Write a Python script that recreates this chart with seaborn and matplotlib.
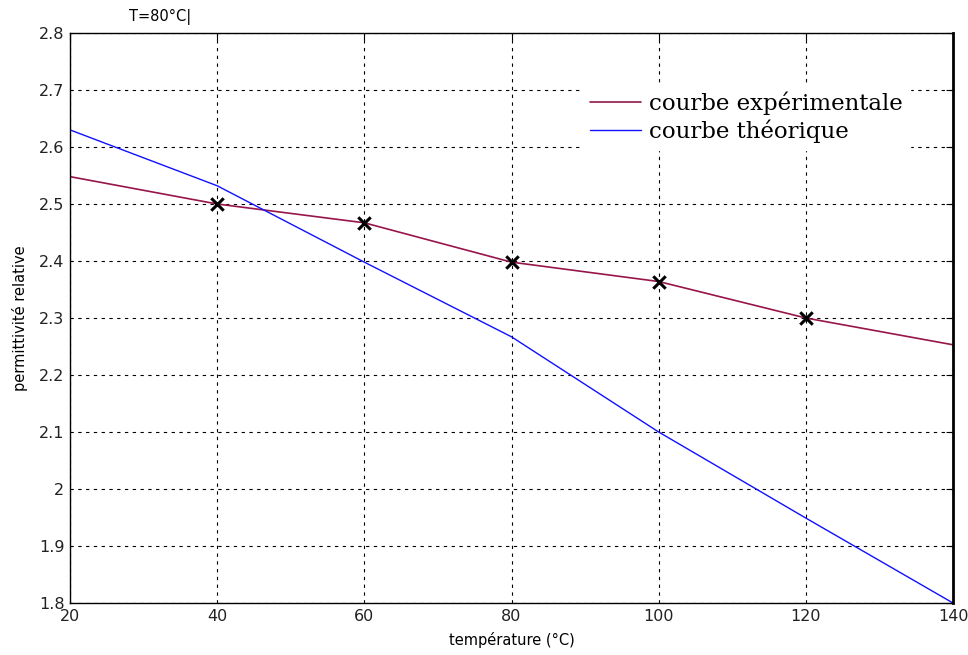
"""
Permittivité relative en fonction de la température : courbe expérimentale vs théorique.
"""

import numpy as np
import pandas as pd
import matplotlib
matplotlib.use("Agg")
import matplotlib.pyplot as plt
import seaborn as sns

# courbe expérimentale (lissée) et points mesurés
temp_exp = [20, 40, 60, 80, 100, 120, 140]
perm_exp = [2.548, 2.500, 2.467, 2.398, 2.364, 2.300, 2.253]
temp_mes = [40, 60, 80, 100, 120]
perm_mes = [2.500, 2.467, 2.398, 2.364, 2.300]

# courbe théorique
temp_th = [20, 40, 60, 80, 100, 120, 140]
perm_th = [2.630, 2.532, 2.398, 2.267, 2.100, 1.949, 1.800]

xticks = [20, 40, 60, 80, 100, 120, 140]
yticks = [1.8, 1.9, 2.0, 2.1, 2.2, 2.3, 2.4, 2.5, 2.6, 2.7, 2.8]
ytick_labels = ["1.8", "1.9", "2", "2.1", "2.2", "2.3", "2.4", "2.5", "2.6", "2.7", "2.8"]

RED = "#97154a"
BLUE = "#1010ff"

df_exp = pd.DataFrame({"T": temp_exp, "eps": perm_exp})
df_th = pd.DataFrame({"T": temp_th, "eps": perm_th})
df_mes = pd.DataFrame({"T": temp_mes, "eps": perm_mes})

sns.set_style("white")
plt.rcParams["font.family"] = ["DejaVu Sans"]
plt.rcParams["text.color"] = "black"
plt.rcParams["axes.labelcolor"] = "black"

fig = plt.figure(figsize=(9.68, 6.55), dpi=100)
ax = fig.add_axes([70 / 968, 1 - 603 / 655, (953 - 70) / 968, (603 - 33) / 655])

sns.lineplot(data=df_exp, x="T", y="eps", color=RED, lw=1.2, ax=ax,
             sort=False, estimator=None, label="courbe expérimentale")
sns.lineplot(data=df_th, x="T", y="eps", color=BLUE, lw=1.0, ax=ax,
             sort=False, estimator=None, label="courbe théorique")
sns.scatterplot(data=df_mes, x="T", y="eps", marker="x", color="black",
                s=80, linewidth=2.2, ax=ax, zorder=5, legend=False)

ax.set_xlim(20, 140)
ax.set_ylim(1.8, 2.8)
ax.set_xticks(xticks)
ax.set_yticks(yticks)
ax.set_yticklabels(ytick_labels)
ax.tick_params(direction="in", top=True, right=True, labelsize=11.5,
               length=5, width=0.8, colors="black", pad=4)
for lab in ax.get_xticklabels() + ax.get_yticklabels():
    lab.set_color("#222222")
ax.grid(True, color="black", linestyle=(0, (3, 4)), linewidth=0.8)
for side in ["left", "bottom", "top"]:
    ax.spines[side].set_color("black")
    ax.spines[side].set_linewidth(1.0)
ax.spines["right"].set_color("black")
ax.spines["right"].set_linewidth(2.0)

ax.set_xlabel("température (°C)", fontsize=10.5, labelpad=6)
ax.set_ylabel("permittivité relative", fontsize=10.5, labelpad=8)
fig.text(160 / 968, 1 - 17 / 655, "T=80°C|", fontsize=10.5, ha="center", va="center")

leg = ax.legend(loc="upper left", bbox_to_anchor=(0.5685, 0.93),
                prop={"family": "DejaVu Serif", "size": 16.5},
                frameon=True, fancybox=False, framealpha=1,
                facecolor="white", edgecolor="white",
                handlelength=2.2, handletextpad=0.36, labelspacing=0.2,
                borderpad=0.3)
leg.set_zorder(6)

plt.savefig("out.png", dpi=100)
plt.close()
